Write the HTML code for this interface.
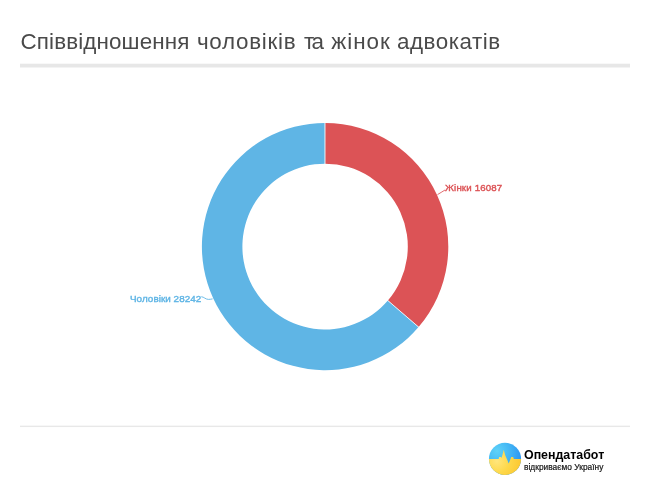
<!DOCTYPE html>
<html><head><meta charset="utf-8">
<style>
html,body{margin:0;padding:0;background:#fff;}
body{width:650px;height:488px;position:relative;overflow:hidden;font-family:"Liberation Sans",sans-serif;}
#title,.abs{will-change:transform;}
#title span{position:absolute;top:0;}
#title{position:absolute;left:0;top:29.2px;font-size:22.4px;line-height:26px;color:#4a4a4a;white-space:nowrap;}
svg{position:absolute;left:0;top:0;}
.abs{position:absolute;white-space:nowrap;}
#lab1{left:444.85px;top:181.5px;font-size:9.7px;line-height:12px;color:#dc5356;-webkit-text-stroke:0.4px #dc5356;letter-spacing:0.14px;}
#lab2{left:130.2px;top:292.7px;font-size:9.9px;line-height:12px;color:#5fb5e5;-webkit-text-stroke:0.4px #5fb5e5;letter-spacing:0.04px;}
#brand{left:524.3px;top:447.5px;font-size:12.4px;line-height:15px;font-weight:bold;color:#000;}
#tag{left:524.2px;top:461.6px;font-size:8.35px;line-height:11px;color:#151515;-webkit-text-stroke:0.2px #151515;letter-spacing:0.02px;}
</style></head><body>
<div id="title"><span id="w1" style="left:20.5px;letter-spacing:0.13px">Співвідношення</span><span id="w2" style="left:197px;letter-spacing:0.7px">чоловіків</span><span id="w3" style="left:304px;letter-spacing:-2.6px">та</span><span id="w4" style="left:331.3px;letter-spacing:1.0px">жінок</span><span id="w5" style="left:397.1px;letter-spacing:0.5px">адвокатів</span></div>
<svg width="650" height="488" viewBox="0 0 650 488">
  <defs>
    <clipPath id="lc"><circle cx="505" cy="458.9" r="16.05"/></clipPath>
  </defs>
  <rect x="20" y="63.7" width="610" height="3.8" fill="#e7e7e7"/>
  <rect x="20" y="425.65" width="610" height="1.4" fill="#e8e8e8"/>
  <g id="donut">
    <path d="M325.10,122.95 A123.2,123.6 0 0 1 418.58,327.06 L387.85,300.55 A82.7,82.9 0 0 0 325.10,163.65 Z" fill="#dc5356"/>
    <path d="M418.58,327.06 A123.2,123.6 0 1 1 325.10,122.95 L325.10,163.65 A82.7,82.9 0 1 0 387.85,300.55 Z" fill="#5fb5e5"/>
    <line x1="324.95" y1="122" x2="324.95" y2="165" stroke="#fff" stroke-width="0.8"/>
    <line x1="419.34" y1="327.71" x2="387.09" y2="299.9" stroke="#fff" stroke-width="0.8"/>
    <path d="M437.5,194.6 Q441,192.5 445,190" fill="none" stroke="#dc5356" stroke-width="0.85"/>
    <path d="M201.3,296.7 C204,296.9 205.5,299.4 208.5,299.4 C209.8,299.4 211,299.2 212.6,298.9" fill="none" stroke="#5fb5e5" stroke-width="0.9"/>
  </g>
  <g id="logo">
    <defs>
      <radialGradient id="gb" cx="497" cy="451" r="26" gradientUnits="userSpaceOnUse">
        <stop offset="0" stop-color="#5fd2f8"/><stop offset="0.45" stop-color="#45b9f5"/><stop offset="1" stop-color="#2a92f0"/>
      </radialGradient>
      <radialGradient id="gy" cx="497" cy="461" r="24" gradientUnits="userSpaceOnUse">
        <stop offset="0" stop-color="#ffe67e"/><stop offset="0.5" stop-color="#fed84a"/><stop offset="1" stop-color="#fcc830"/>
      </radialGradient>
    </defs>
    <g clip-path="url(#lc)">
      <rect x="488" y="442" width="34" height="34" fill="url(#gb)"/>
      <path d="M488,458.9 L498.6,458.9 L499.1,457.1 L500.9,457.1 L501.4,457.9 L502.3,455.6 L503.7,449.8 L505.3,455.6 L506.9,458.9 L508.7,463.5 L510.5,458.9 L511.2,456.9 L513.2,456.9 L513.8,458.9 L522,458.9 L522,476 L488,476 Z" fill="url(#gy)"/>
    </g>
  </g>
</svg>
<div id="lab1" class="abs">Жінки 16087</div>
<div id="lab2" class="abs">Чоловіки 28242</div>
<div id="brand" class="abs">Опендатабот</div>
<div id="tag" class="abs">відкриваємо Україну</div>
</body></html>
